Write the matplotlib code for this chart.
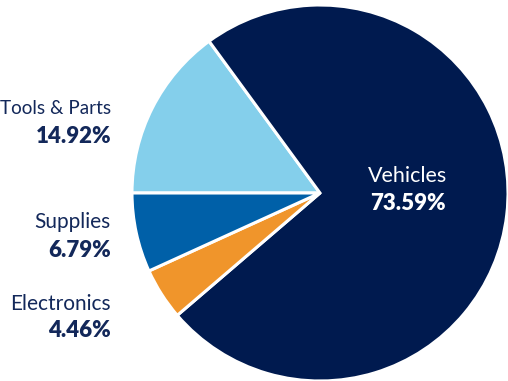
import matplotlib
matplotlib.use("Agg")
import matplotlib.pyplot as plt

# Share of items by category
categories = ["Tools & Parts", "Vehicles", "Electronics", "Supplies"]
shares = [14.92, 73.59, 4.46, 6.79]
colors = ["#84cfeb", "#001a4f", "#f0952b", "#0060a8"]

TEXT = "#13285a"
FONT = "Lato"

W, H = 508, 381
fig = plt.figure(figsize=(W / 100, H / 100), dpi=100)

cx, cy, r = 320, 193, 188
ax = fig.add_axes([(cx - r) / W, (H - cy - r) / H, 2 * r / W, 2 * r / H])
ax.pie(shares, colors=colors, startangle=180, counterclock=False, radius=1,
       wedgeprops=dict(edgecolor="white", linewidth=2.2))
ax.set_xlim(-1, 1)
ax.set_ylim(-1, 1)
ax.set_aspect("auto")
ax.axis("off")


def px(x, y):
    return (x - cx) / r, (cy - y) / r


# label anchors: (x, name baseline, percent baseline, alignment, color, name size)
label_pos = {
    "Tools & Parts": (111, 114, 143, "right", TEXT, 13.6),
    "Supplies": (111, 228, 257, "right", TEXT, 15),
    "Electronics": (111, 310, 337, "right", TEXT, 15),
    "Vehicles": (408, 182, 210, "center", "white", 15.5),
}

for name, val in zip(categories, shares):
    x, yb1, yb2, ha, col, size = label_pos[name]
    ax.text(*px(x, yb1), name, ha=ha, va="baseline", fontsize=size,
            family=FONT, color=col, clip_on=False)
    ax.text(*px(x, yb2), f"{val:.2f}%", ha=ha, va="baseline", fontsize=16,
            family=FONT, fontweight="heavy", color=col, clip_on=False)

fig.savefig("out.png", dpi=100)
